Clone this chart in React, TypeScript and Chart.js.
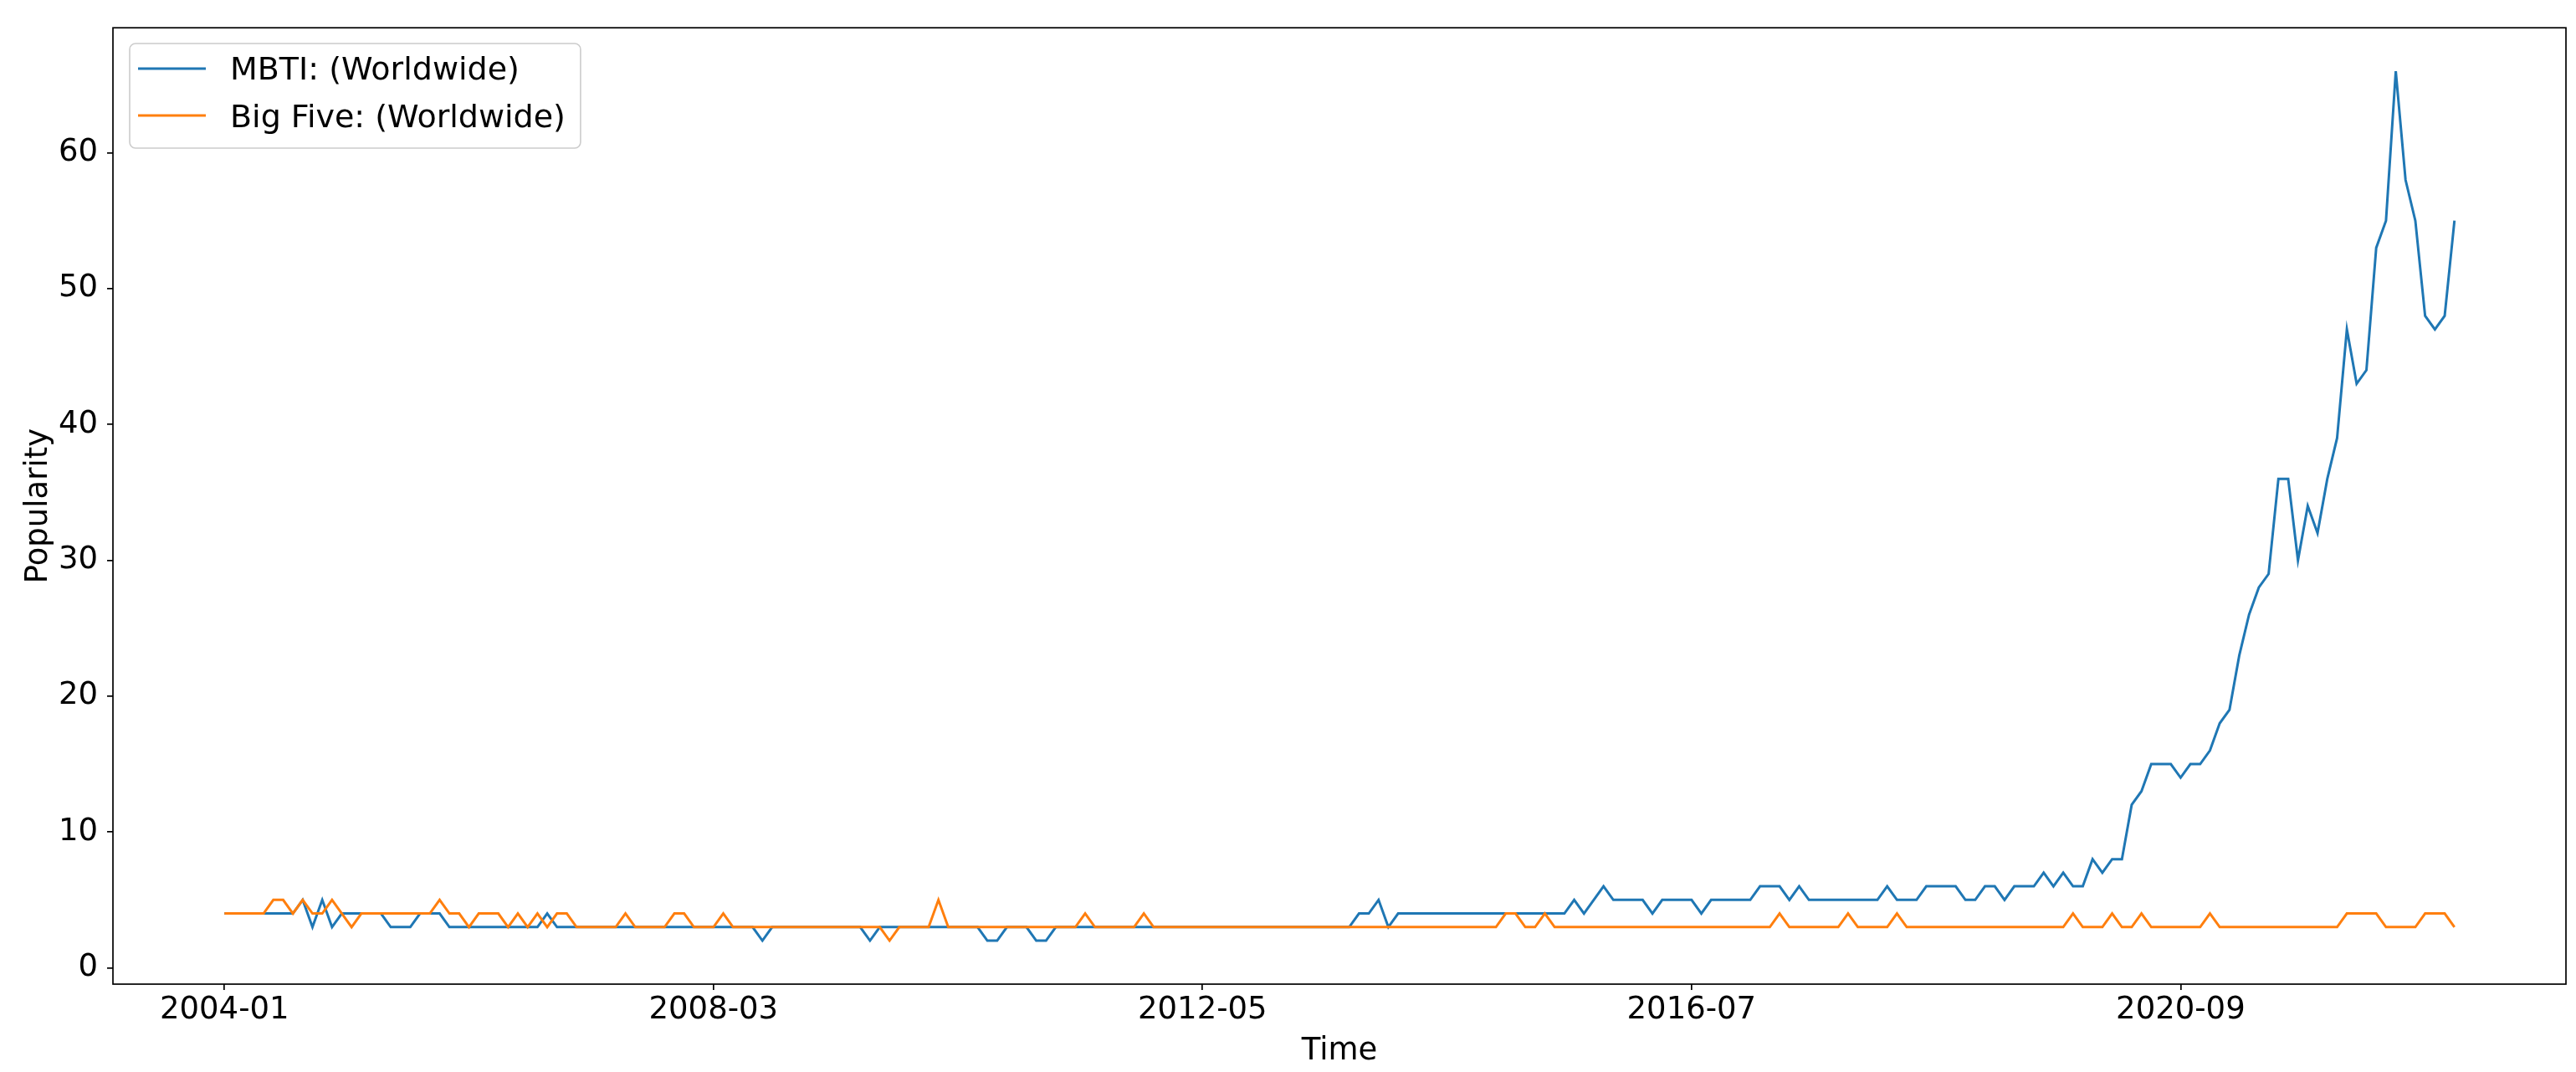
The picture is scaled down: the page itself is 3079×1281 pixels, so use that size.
import React, { useEffect, useRef } from "react";
import { Chart, registerables } from "chart.js";

Chart.register(...registerables);

// Monthly categories 2004-01 .. 2023-01
const categories: string[] = Array.from({ length: 229 }, (_, i) => {
  const y = 2004 + Math.floor(i / 12);
  const m = (i % 12) + 1;
  return `${y}-${String(m).padStart(2, "0")}`;
});

const tickLabels = ["2004-01", "2008-03", "2012-05", "2016-07", "2020-09"];
const yTicks = [0, 10, 20, 30, 40, 50, 60];

const seriesNames = ["MBTI: (Worldwide)", "Big Five: (Worldwide)"];

const mbti = [
  4, 4, 4, 4, 4, 4, 4, 4, 5, 3,
  5, 3, 4, 4, 4, 4, 4, 3, 3, 3,
  4, 4, 4, 3, 3, 3, 3, 3, 3, 3,
  3, 3, 3, 4, 3, 3, 3, 3, 3, 3,
  3, 3, 3, 3, 3, 3, 3, 3, 3, 3,
  3, 3, 3, 3, 3, 2, 3, 3, 3, 3,
  3, 3, 3, 3, 3, 3, 2, 3, 3, 3,
  3, 3, 3, 3, 3, 3, 3, 3, 2, 2,
  3, 3, 3, 2, 2, 3, 3, 3, 3, 3,
  3, 3, 3, 3, 3, 3, 3, 3, 3, 3,
  3, 3, 3, 3, 3, 3, 3, 3, 3, 3,
  3, 3, 3, 3, 3, 3, 4, 4, 5, 3,
  4, 4, 4, 4, 4, 4, 4, 4, 4, 4,
  4, 4, 4, 4, 4, 4, 4, 4, 5, 4,
  5, 6, 5, 5, 5, 5, 4, 5, 5, 5,
  5, 4, 5, 5, 5, 5, 5, 6, 6, 6,
  5, 6, 5, 5, 5, 5, 5, 5, 5, 5,
  6, 5, 5, 5, 6, 6, 6, 6, 5, 5,
  6, 6, 5, 6, 6, 6, 7, 6, 7, 6,
  6, 8, 7, 8, 8, 12, 13, 15, 15, 15,
  14, 15, 15, 16, 18, 19, 23, 26, 28, 29,
  36, 36, 30, 34, 32, 36, 39, 47, 43, 44,
  53, 55, 66, 58, 55, 48, 47, 48, 55,
];

const bigFive = [
  4, 4, 4, 4, 4, 5, 5, 4, 5, 4,
  4, 5, 4, 3, 4, 4, 4, 4, 4, 4,
  4, 4, 5, 4, 4, 3, 4, 4, 4, 3,
  4, 3, 4, 3, 4, 4, 3, 3, 3, 3,
  3, 4, 3, 3, 3, 3, 4, 4, 3, 3,
  3, 4, 3, 3, 3, 3, 3, 3, 3, 3,
  3, 3, 3, 3, 3, 3, 3, 3, 2, 3,
  3, 3, 3, 5, 3, 3, 3, 3, 3, 3,
  3, 3, 3, 3, 3, 3, 3, 3, 4, 3,
  3, 3, 3, 3, 4, 3, 3, 3, 3, 3,
  3, 3, 3, 3, 3, 3, 3, 3, 3, 3,
  3, 3, 3, 3, 3, 3, 3, 3, 3, 3,
  3, 3, 3, 3, 3, 3, 3, 3, 3, 3,
  3, 4, 4, 3, 3, 4, 3, 3, 3, 3,
  3, 3, 3, 3, 3, 3, 3, 3, 3, 3,
  3, 3, 3, 3, 3, 3, 3, 3, 3, 4,
  3, 3, 3, 3, 3, 3, 4, 3, 3, 3,
  3, 4, 3, 3, 3, 3, 3, 3, 3, 3,
  3, 3, 3, 3, 3, 3, 3, 3, 3, 4,
  3, 3, 3, 4, 3, 3, 4, 3, 3, 3,
  3, 3, 3, 4, 3, 3, 3, 3, 3, 3,
  3, 3, 3, 3, 3, 3, 3, 4, 4, 4,
  4, 3, 3, 3, 3, 4, 4, 4, 3,
];

const COLORS = ["#1f77b4", "#ff7f0e"];
const FONT = '"DejaVu Sans", sans-serif';
const FS = 37;
const LEGEND_FS = 38;

const decorPlugin = {
  id: "decor",
  afterDraw(chart: any) {
    const { ctx, chartArea } = chart;
    const { left, right, top, bottom } = chartArea;
    ctx.save();
    // frame
    ctx.strokeStyle = "#000";
    ctx.lineWidth = 1.7;
    ctx.strokeRect(left, top, right - left, bottom - top);

    // axis titles
    ctx.fillStyle = "#000";
    ctx.font = `${FS}px ${FONT}`;
    ctx.textAlign = "center";
    ctx.textBaseline = "alphabetic";
    ctx.fillText("Time", (left + right) / 2, 1266);
    ctx.save();
    ctx.translate(56, (top + bottom) / 2);
    ctx.rotate(-Math.PI / 2);
    ctx.fillText("Popularity", 0, 0);
    ctx.restore();

    // legend
    ctx.font = `${LEGEND_FS}px ${FONT}`;
    const w = Math.max(...seriesNames.map((s) => ctx.measureText(s).width));
    const x0 = 155, y0 = 52, x1 = 275 + w + 18, y1 = 177, r = 7;
    ctx.beginPath();
    ctx.moveTo(x0 + r, y0);
    ctx.lineTo(x1 - r, y0);
    ctx.arcTo(x1, y0, x1, y0 + r, r);
    ctx.lineTo(x1, y1 - r);
    ctx.arcTo(x1, y1, x1 - r, y1, r);
    ctx.lineTo(x0 + r, y1);
    ctx.arcTo(x0, y1, x0, y1 - r, r);
    ctx.lineTo(x0, y0 + r);
    ctx.arcTo(x0, y0, x0 + r, y0, r);
    ctx.closePath();
    ctx.fillStyle = "rgba(255,255,255,0.8)";
    ctx.fill();
    ctx.strokeStyle = "#cccccc";
    ctx.lineWidth = 1.6;
    ctx.stroke();

    const rows = [
      { ly: 82, by: 95 },
      { ly: 138, by: 152 },
    ];
    seriesNames.forEach((name, k) => {
      ctx.beginPath();
      ctx.strokeStyle = COLORS[k];
      ctx.lineWidth = 3;
      ctx.moveTo(165, rows[k].ly);
      ctx.lineTo(246, rows[k].ly);
      ctx.stroke();
      ctx.fillStyle = "#000";
      ctx.textAlign = "left";
      ctx.fillText(name, 275, rows[k].by);
    });
    ctx.restore();
  },
};

export default function App() {
  const ref = useRef<HTMLCanvasElement | null>(null);

  useEffect(() => {
    if (!ref.current) return;
    const tickIdx = tickLabels.map((t) => categories.indexOf(t));
    const chart = new Chart(ref.current, {
      type: "line",
      data: {
        datasets: [
          {
            label: seriesNames[0],
            data: mbti.map((v, i) => ({ x: i, y: v })),
            borderColor: COLORS[0],
            backgroundColor: COLORS[0],
            borderWidth: 3,
            pointRadius: 0,
            tension: 0,
            order: 1,
          },
          {
            label: seriesNames[1],
            data: bigFive.map((v, i) => ({ x: i, y: v })),
            borderColor: COLORS[1],
            backgroundColor: COLORS[1],
            borderWidth: 3,
            pointRadius: 0,
            tension: 0,
            order: 0,
          },
        ],
      },
      options: {
        animation: false,
        responsive: false,
        maintainAspectRatio: false,
        devicePixelRatio: 1,
        layout: { padding: { left: 0, top: 32, right: 12, bottom: 0 } },
        plugins: { legend: { display: false }, tooltip: { enabled: false } },
        scales: {
          x: {
            type: "linear",
            min: -11.4,
            max: 239.4,
            afterBuildTicks: (scale: any) => {
              scale.ticks = tickIdx.map((v) => ({ value: v }));
            },
            afterFit: (scale: any) => {
              scale.height = 105;
            },
            ticks: {
              autoSkip: false,
              maxRotation: 0,
              padding: 2,
              color: "#000",
              font: { family: FONT, size: FS },
              callback: (v: any) => categories[Math.round(Number(v))] ?? "",
            },
            grid: {
              drawOnChartArea: false,
              drawTicks: true,
              tickLength: 7,
              color: "#000",
              lineWidth: 1.7,
            },
            border: { display: false },
          },
          y: {
            type: "linear",
            min: -1.2,
            max: 69.2,
            afterBuildTicks: (scale: any) => {
              scale.ticks = yTicks.map((v) => ({ value: v }));
            },
            afterFit: (scale: any) => {
              scale.width = 135;
            },
            ticks: {
              padding: 11,
              color: "#000",
              font: { family: FONT, size: FS },
              callback: (v: any) => String(v),
            },
            grid: {
              drawOnChartArea: false,
              drawTicks: true,
              tickLength: 7,
              color: "#000",
              lineWidth: 1.7,
            },
            border: { display: false },
          },
        },
      } as any,
      plugins: [decorPlugin],
    });
    return () => chart.destroy();
  }, []);

  return (
    <div style={{ position: "absolute", left: 0, top: 0, width: 3079, height: 1281, background: "#fff" }}>
      <canvas ref={ref} width={3079} height={1281} style={{ display: "block" }} />
    </div>
  );
}
